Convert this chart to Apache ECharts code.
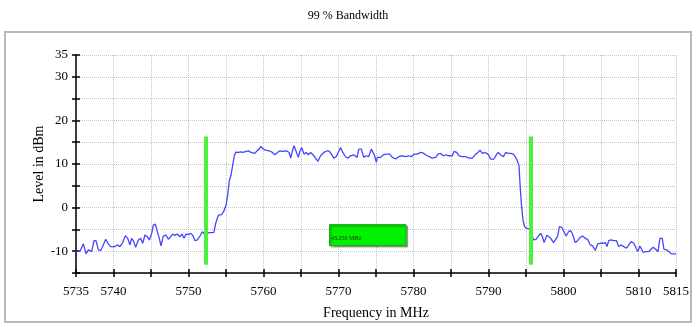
<!DOCTYPE html>
<html>
<head>
<meta charset="utf-8">
<title>99 % Bandwidth</title>
<script src="https://cdn.jsdelivr.net/npm/echarts@6/dist/echarts.min.js"></script>
<style>
  html, body { margin: 0; padding: 0; background: #fff; }
  #chart { width: 696px; height: 325px; }
</style>
</head>
<body>
<div id="chart"></div>
<script>
// Measured spectrum trace: frequency (MHz) and level (dBm)
const traceMHz = [
  5735.00, 5735.53, 5735.98, 5736.20, 5736.33, 5736.64, 5736.87, 5737.09, 5737.40, 5737.67,
  5737.98, 5738.29, 5738.56, 5738.96, 5739.31, 5739.62, 5740.20, 5740.51, 5740.87, 5741.22,
  5741.58, 5741.89, 5742.20, 5742.42, 5742.64, 5742.96, 5743.31, 5743.62, 5743.89, 5744.20,
  5744.51, 5744.78, 5745.09, 5745.31, 5745.58, 5745.84, 5746.11, 5746.33, 5746.64, 5747.00,
  5747.31, 5747.62, 5747.89, 5748.20, 5748.51, 5748.87, 5749.13, 5749.40, 5749.67, 5749.98,
  5750.29, 5750.56, 5750.87, 5751.18, 5751.53, 5751.84, 5752.11, 5752.42, 5752.78, 5753.09,
  5753.40, 5753.62, 5753.98, 5754.42, 5754.73,
  5755.00, 5755.22, 5755.44, 5755.66, 5755.88, 5756.11, 5756.33, 5756.68, 5756.99, 5757.30,
  5757.65, 5758.01, 5758.32, 5758.54, 5758.85, 5759.12, 5759.42, 5759.65, 5759.96, 5760.31,
  5760.75, 5761.19, 5761.50, 5761.86, 5762.17, 5762.52, 5762.74, 5763.05, 5763.41, 5763.63,
  5763.85, 5764.07, 5764.29, 5764.65, 5764.87, 5765.09, 5765.40, 5765.71, 5765.97, 5766.28,
  5766.59, 5766.95, 5767.26, 5767.61, 5768.05, 5768.50, 5768.81, 5769.07, 5769.38, 5769.69,
  5769.96, 5770.27, 5770.58, 5770.93, 5771.28, 5771.59, 5772.04, 5772.48, 5772.70, 5773.05,
  5773.36, 5773.67, 5774.03, 5774.38, 5774.60, 5774.82, 5775.04,
  5775.18, 5775.40, 5775.62, 5775.98, 5776.29, 5776.51, 5776.82, 5777.18, 5777.62, 5778.07,
  5778.51, 5778.96, 5779.40, 5779.71, 5780.07, 5780.51, 5780.96, 5781.31, 5781.62, 5782.07,
  5782.51, 5782.96, 5783.27, 5783.62, 5783.98, 5784.29, 5784.73, 5785.18, 5785.40, 5785.76,
  5786.07, 5786.51, 5786.96, 5787.40, 5787.84, 5788.29, 5788.60, 5788.87, 5789.18, 5789.53,
  5789.93, 5790.29, 5790.73, 5790.96, 5791.27, 5791.62, 5791.98, 5792.29, 5792.60, 5792.96,
  5793.31, 5793.62, 5793.84, 5794.07, 5794.20, 5794.38, 5794.60, 5794.82, 5795.09,
  5795.31, 5795.63, 5795.98, 5796.34, 5796.65, 5796.96, 5797.19, 5797.41, 5797.77, 5797.99,
  5798.30, 5798.66, 5798.88, 5799.20, 5799.46, 5799.78, 5800.00, 5800.36, 5800.67, 5800.98,
  5801.25, 5801.56, 5801.88, 5802.23, 5802.54, 5802.90, 5803.21, 5803.57, 5803.88, 5804.24,
  5804.55, 5804.91, 5805.27, 5805.58, 5805.80, 5806.03, 5806.34, 5806.70, 5807.05, 5807.37,
  5807.68, 5808.04, 5808.39, 5808.71, 5809.02, 5809.38, 5809.69, 5809.91, 5810.18, 5810.40,
  5810.63, 5810.94, 5811.38, 5811.61, 5811.96, 5812.28, 5812.59, 5812.86, 5813.17, 5813.39,
  5813.75, 5814.06, 5814.38, 5814.64, 5815.00
];
const traceDbm = [
  -10.00, -10.00, -8.33, -8.33, -10.61, -9.70, -9.39, -10.08, -7.58, -7.58,
  -9.70, -9.85, -8.94, -7.27, -8.33, -8.94, -8.94, -8.56, -8.94, -8.03,
  -6.44, -7.05, -8.56, -7.05, -7.58, -9.09, -7.42, -7.05, -8.18, -6.29,
  -6.67, -7.42, -5.91, -4.02, -3.79, -5.53, -7.05, -8.79, -6.52, -6.29,
  -7.27, -6.67, -6.06, -6.36, -6.06, -6.67, -6.06, -7.05, -6.06, -6.14,
  -5.91, -6.36, -7.58, -7.42, -6.52, -5.53, -6.06, -5.91, -5.76, -5.76,
  -5.68, -3.64, -1.74, -1.59, -0.76,
  0.53, 2.80, 6.21, 7.35, 9.62, 11.89, 12.73, 12.65, 12.80, 12.65,
  12.88, 13.03, 12.65, 12.27, 12.42, 13.03, 13.41, 14.02, 13.41, 13.18,
  13.03, 12.65, 12.12, 12.65, 13.03, 12.88, 12.65, 13.03, 12.65, 11.36,
  13.03, 14.17, 13.79, 11.52, 13.03, 13.79, 12.27, 12.65, 12.12, 12.65,
  12.12, 11.36, 10.61, 11.89, 12.65, 13.03, 12.88, 13.18, 11.36, 11.67,
  12.65, 13.79, 12.65, 11.67, 11.36, 11.89, 12.12, 11.52, 13.41, 13.41,
  11.52, 11.89, 11.67, 13.41, 13.79, 11.89, 10.38,
  11.52, 11.89, 11.52, 12.12, 12.27, 12.65, 12.27, 11.52, 11.14, 11.74,
  11.89, 11.67, 11.89, 11.67, 12.27, 12.27, 12.65, 12.50, 12.12, 11.67,
  11.36, 11.52, 12.27, 12.42, 11.89, 12.12, 11.89, 11.89, 12.88, 12.65,
  11.89, 11.67, 11.67, 11.36, 11.36, 12.27, 12.65, 13.18, 12.42, 12.65,
  12.27, 11.14, 11.14, 11.89, 12.65, 12.12, 11.67, 12.65, 12.42, 12.42,
  12.27, 11.52, 10.76, 9.62, 5.45, 0.91, -2.88, -4.39, -4.77,
  -4.77, -5.00, -7.42, -7.27, -6.52, -5.91, -6.67, -8.03, -6.36, -6.29,
  -7.05, -8.03, -8.33, -6.67, -4.39, -4.55, -5.00, -6.52, -5.53, -5.30,
  -6.29, -8.03, -7.58, -6.82, -6.52, -7.05, -7.27, -8.56, -8.79, -9.85,
  -8.33, -8.18, -8.18, -8.03, -8.94, -7.58, -7.42, -7.58, -7.58, -8.94,
  -8.56, -8.94, -9.32, -8.56, -7.80, -8.18, -9.32, -10.08, -8.79, -8.79,
  -10.30, -10.08, -10.08, -9.70, -9.09, -9.55, -10.08, -7.05, -7.05, -9.55,
  -9.70, -10.08, -10.61, -10.98, -10.61
];

// 99 % occupied bandwidth edges (MHz) and the marker extent (dBm)
const bandEdgesMHz = [5752.35, 5795.60];
const edgeMarkerDbm = [-13.1, 16.3];
const bandwidthMHz = 43.25;
const bandwidthLabel = bandwidthMHz.toFixed(3) + ' MHz';
// Readout box extent in data units: [fromMHz, toMHz] and [topDbm, bottomDbm]
const readoutMHz = [5768.8, 5779.0];
const readoutDbm = [-3.9, -8.7];

// Axis ranges and labelled ticks
const freqRange = [5735, 5815];
const levelRange = [-15, 35];
const freqTickLabels = [5735, 5740, 5750, 5760, 5770, 5780, 5790, 5800, 5810, 5815];
const levelTickLabels = [35, 30, 20, 10, 0, -10];

const serif = "'Liberation Serif', 'DejaVu Serif', serif";
const traceData = traceMHz.map((f, i) => [f, traceDbm[i]]);

const chart = echarts.init(document.getElementById('chart'), null, { renderer: 'canvas' });

const baseX = {
  type: 'value', min: freqRange[0], max: freqRange[1], interval: 5,
  position: 'bottom'
};
const baseY = {
  type: 'value', min: levelRange[0], max: levelRange[1], interval: 5,
  position: 'left'
};

chart.setOption({
  animation: false,
  backgroundColor: '#fff',
  title: {
    text: '99 % Bandwidth', left: 'center', top: 5,
    textStyle: { fontFamily: serif, fontSize: 12, fontWeight: 'normal', color: '#000' }
  },
  graphic: [{
    type: 'rect', silent: true, z: -1,
    shape: { x: 5, y: 32, width: 686, height: 290 },
    style: { fill: 'none', stroke: '#b8b8b8', lineWidth: 2 }
  }],
  grid: { left: 76, right: 20, top: 55, bottom: 50, containLabel: false },
  xAxis: [
    Object.assign({}, baseX, {
      name: 'Frequency in MHz', nameLocation: 'middle', nameGap: 33, nameMoveOverlap: false,
      nameTextStyle: { fontFamily: serif, fontSize: 14, color: '#000' },
      axisLine: { onZero: false, lineStyle: { color: '#000', width: 1.5 } },
      axisTick: { inside: false, length: 4, lineStyle: { color: '#000', width: 1.5 } },
      axisLabel: {
        margin: 12, fontFamily: serif, fontSize: 13, color: '#000',
        showMinLabel: true, showMaxLabel: true,
        formatter: v => freqTickLabels.indexOf(Math.round(v)) >= 0 ? String(Math.round(v)) : ''
      },
      splitLine: { show: true, lineStyle: { color: '#c4c4c4', type: 'dotted', width: 1 } }
    }),
    Object.assign({}, baseX, {
      axisLine: { show: false, onZero: false },
      axisTick: { inside: true, length: 4, lineStyle: { color: '#000', width: 1.5 } },
      axisLabel: { show: false },
      splitLine: { show: false }
    })
  ],
  yAxis: [
    Object.assign({}, baseY, {
      name: 'Level in dBm', nameLocation: 'middle', nameGap: 30, nameMoveOverlap: false,
      nameTextStyle: { fontFamily: serif, fontSize: 14, color: '#000' },
      axisLine: { onZero: false, lineStyle: { color: '#000', width: 1.5 } },
      axisTick: { inside: false, length: 4, lineStyle: { color: '#000', width: 1.5 } },
      axisLabel: {
        margin: 8, fontFamily: serif, fontSize: 13, color: '#000',
        formatter: v => levelTickLabels.indexOf(Math.round(v)) >= 0 ? String(Math.round(v)) : ''
      },
      splitLine: { show: true, lineStyle: { color: '#c4c4c4', type: 'dotted', width: 1 } }
    }),
    Object.assign({}, baseY, {
      axisLine: { show: false, onZero: false },
      axisTick: { inside: true, length: 4, lineStyle: { color: '#000', width: 1.5 } },
      axisLabel: { show: false },
      splitLine: { show: false }
    })
  ],
  series: [
    {
      name: 'Level',
      type: 'line',
      data: traceData,
      symbol: 'none',
      z: 3,
      lineStyle: { color: '#4646ff', width: 1.3 }
    },
    {
      name: 'Bandwidth',
      type: 'line',
      data: [],
      z: 5,
      markLine: {
        silent: true, symbol: ['none', 'none'], animation: false,
        label: { show: false },
        lineStyle: { color: '#4ef03e', width: 4, type: 'solid' },
        emphasis: { disabled: true },
        data: bandEdgesMHz.map(f => [
          { coord: [f, edgeMarkerDbm[0]] },
          { coord: [f, edgeMarkerDbm[1]] }
        ])
      },
      markArea: {
        silent: true, animation: false,
        itemStyle: {
          color: '#00f000', borderColor: '#2f9a2f', borderWidth: 1,
          shadowColor: 'rgba(0,90,0,0.45)', shadowOffsetX: 1.5, shadowOffsetY: 1.5, shadowBlur: 1
        },
        label: {
          show: true, position: 'insideLeft', distance: 2, offset: [0, 3],
          fontFamily: serif, fontSize: 6, color: '#142c00'
        },
        emphasis: { disabled: true },
        data: [[
          { name: bandwidthLabel, coord: [readoutMHz[0], readoutDbm[0]] },
          { coord: [readoutMHz[1], readoutDbm[1]] }
        ]]
      }
    }
  ]
});
</script>
</body>
</html>
